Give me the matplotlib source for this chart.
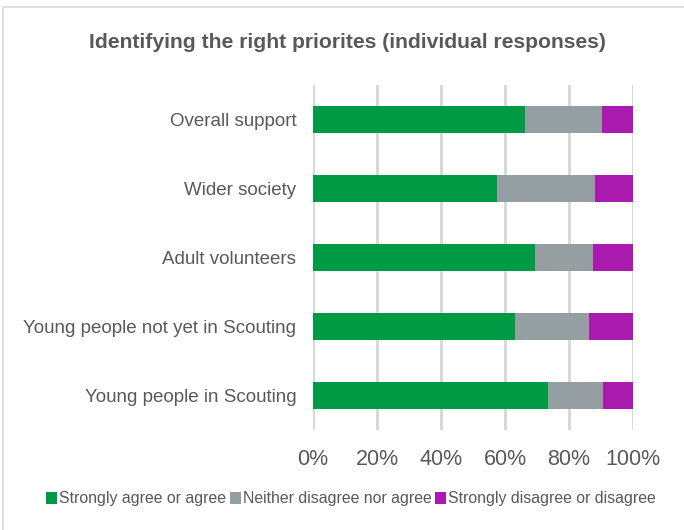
import matplotlib
matplotlib.use("Agg")
import matplotlib.pyplot as plt
from matplotlib.patches import Rectangle

plt.rcParams['font.family'] = ['Liberation Sans', 'DejaVu Sans']

categories = ["Young people in Scouting", "Young people not yet in Scouting",
              "Adult volunteers", "Wider society", "Overall support"]
agree = [73.5, 63.1, 69.4, 57.5, 66.3]
neutral = [17.1, 23.3, 18.0, 30.6, 23.9]
disagree = [9.4, 13.6, 12.6, 11.9, 9.8]
series_names = ["Strongly agree or agree", "Neither disagree nor agree",
                "Strongly disagree or disagree"]
colors = ["#009A44", "#959FA2", "#AB1AAF"]
xticks = [0, 20, 40, 60, 80, 100]
xtick_labels = ["0%", "20%", "40%", "60%", "80%", "100%"]

W, H = 684, 530
fig = plt.figure(figsize=(W / 100, H / 100), dpi=100)
ax = fig.add_axes([313 / W, 1 - 430 / H, 320 / W, 345 / H])

# outer chart frame
fig.patches.append(Rectangle((3 / W, -0.1), 1.2, 1 - 7 / H + 0.1,
                             transform=fig.transFigure, fill=False,
                             edgecolor="#D9D9D9", linewidth=1.2))

y = range(len(categories))
left = [0] * len(categories)
for vals, name, c in zip([agree, neutral, disagree], series_names, colors):
    ax.barh(y, vals, left=left, height=0.39, color=c, label=name, zorder=3)
    left = [l + v for l, v in zip(left, vals)]

ax.set_xlim(0, 100)
ax.set_ylim(-0.5, len(categories) - 0.5)
ax.set_xticks(xticks)
ax.set_xticklabels(xtick_labels, fontsize=15.5, color="#595959")
ax.set_yticks(list(y))
ax.set_yticklabels(categories, fontsize=13.5, color="#595959")
ax.tick_params(length=0)
ax.tick_params(axis="x", pad=14)
ax.tick_params(axis="y", pad=12)
ax.grid(axis="x", color="#D9D9D9", linewidth=2.2, zorder=0)
for s in ax.spines.values():
    s.set_visible(False)

fig.text(347 / W, 1 - 43 / H, "Identifying the right priorites (individual responses)",
         ha="center", va="center", fontsize=15.2, fontweight="bold", color="#595959")

handles, labels = ax.get_legend_handles_labels()
fig.legend(handles, labels, loc="center", bbox_to_anchor=(351 / W, 1 - 499 / H),
           ncol=3, frameon=False, fontsize=11.4, labelcolor="#595959",
           handlelength=0.7, handleheight=0.7, handletextpad=0.15, columnspacing=0.2)

fig.savefig("out.png", dpi=100)
